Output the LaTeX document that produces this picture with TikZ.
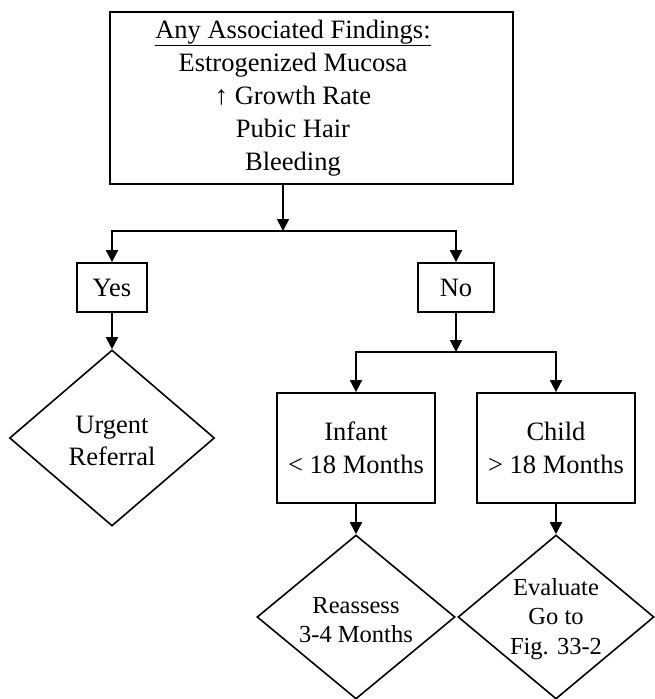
\documentclass[tikz,border=0pt]{standalone}
\usepackage{fontspec}
\setmainfont{Liberation Serif}
\usetikzlibrary{arrows.meta,shapes.geometric}
\begin{document}
\begin{tikzpicture}[x=1pt,y=-1pt,
  box/.style={draw,line width=1.8pt,inner sep=0pt},
  dia/.style={draw,diamond,line width=1.6pt,inner sep=0pt},
  arr/.style={line width=1.8pt,-{Triangle[length=12pt,width=12pt]}},
  big/.style={font=\fontsize{26.5}{32.5}\selectfont,align=center,inner sep=0pt},
  small/.style={font=\fontsize{24.5}{29.5}\selectfont,align=center,inner sep=0pt}]
\useasboundingbox (0,0) rectangle (654,699);

% question box
\node[box,minimum width=403pt,minimum height=172pt] (find) at (311.5,98) {};
\node[big,font=\fontsize{26.5}{33}\selectfont] (findtext) at (293,98)
  {\underline{Any Associated Findings:}\\Estrogenized Mucosa\\↑ Growth Rate\\Pubic Hair\\Bleeding};

% answers
\node[box,big,minimum width=70pt,minimum height=49pt] (yes) at (112,287.5) {Yes};
\node[box,big,minimum width=76pt,minimum height=49pt] (no) at (456,287.5) {No};

% outcomes
\node[dia,minimum width=205pt,minimum height=176pt] (urgent) at (112,438) {};
\node[big] (urgenttext) at (112,441) {Urgent\\Referral};

\node[box,big,minimum width=158pt,minimum height=110pt] (infant) at (356,448) {Infant\\< 18 Months};
\node[box,big,minimum width=158pt,minimum height=110pt] (child) at (556,448) {Child\\> 18 Months};

\node[dia,minimum width=198pt,minimum height=164pt] (reassess) at (356,617) {};
\node[small] (reassesstext) at (356,620) {Reassess\\3-4 Months};
\node[dia,minimum width=196pt,minimum height=164pt] (evaluate) at (556,617) {};
\node[small] (evaluatetext) at (556,619) {Evaluate\\Go to\\Fig. 33-2};

% connectors
\coordinate (j1) at (283,231);
\coordinate (j2) at (456,352);
\draw[arr] (find.south -| j1) -- (j1);
\draw[arr] (no.north |- j1) -- (yes.north |- j1) -- (yes.north);
\draw[arr] (yes.north |- j1) -- (no.north |- j1) -- (no.north);
\draw[arr] (yes.south) -- (urgent.north);
\draw[arr] (no.south) -- (j2);
\draw[arr] (child.north |- j2) -- (infant.north |- j2) -- (infant.north);
\draw[arr] (infant.north |- j2) -- (child.north |- j2) -- (child.north);
\draw[arr] (infant.south) -- (reassess.north);
\draw[arr] (child.south) -- (evaluate.north);
\end{tikzpicture}
\end{document}
